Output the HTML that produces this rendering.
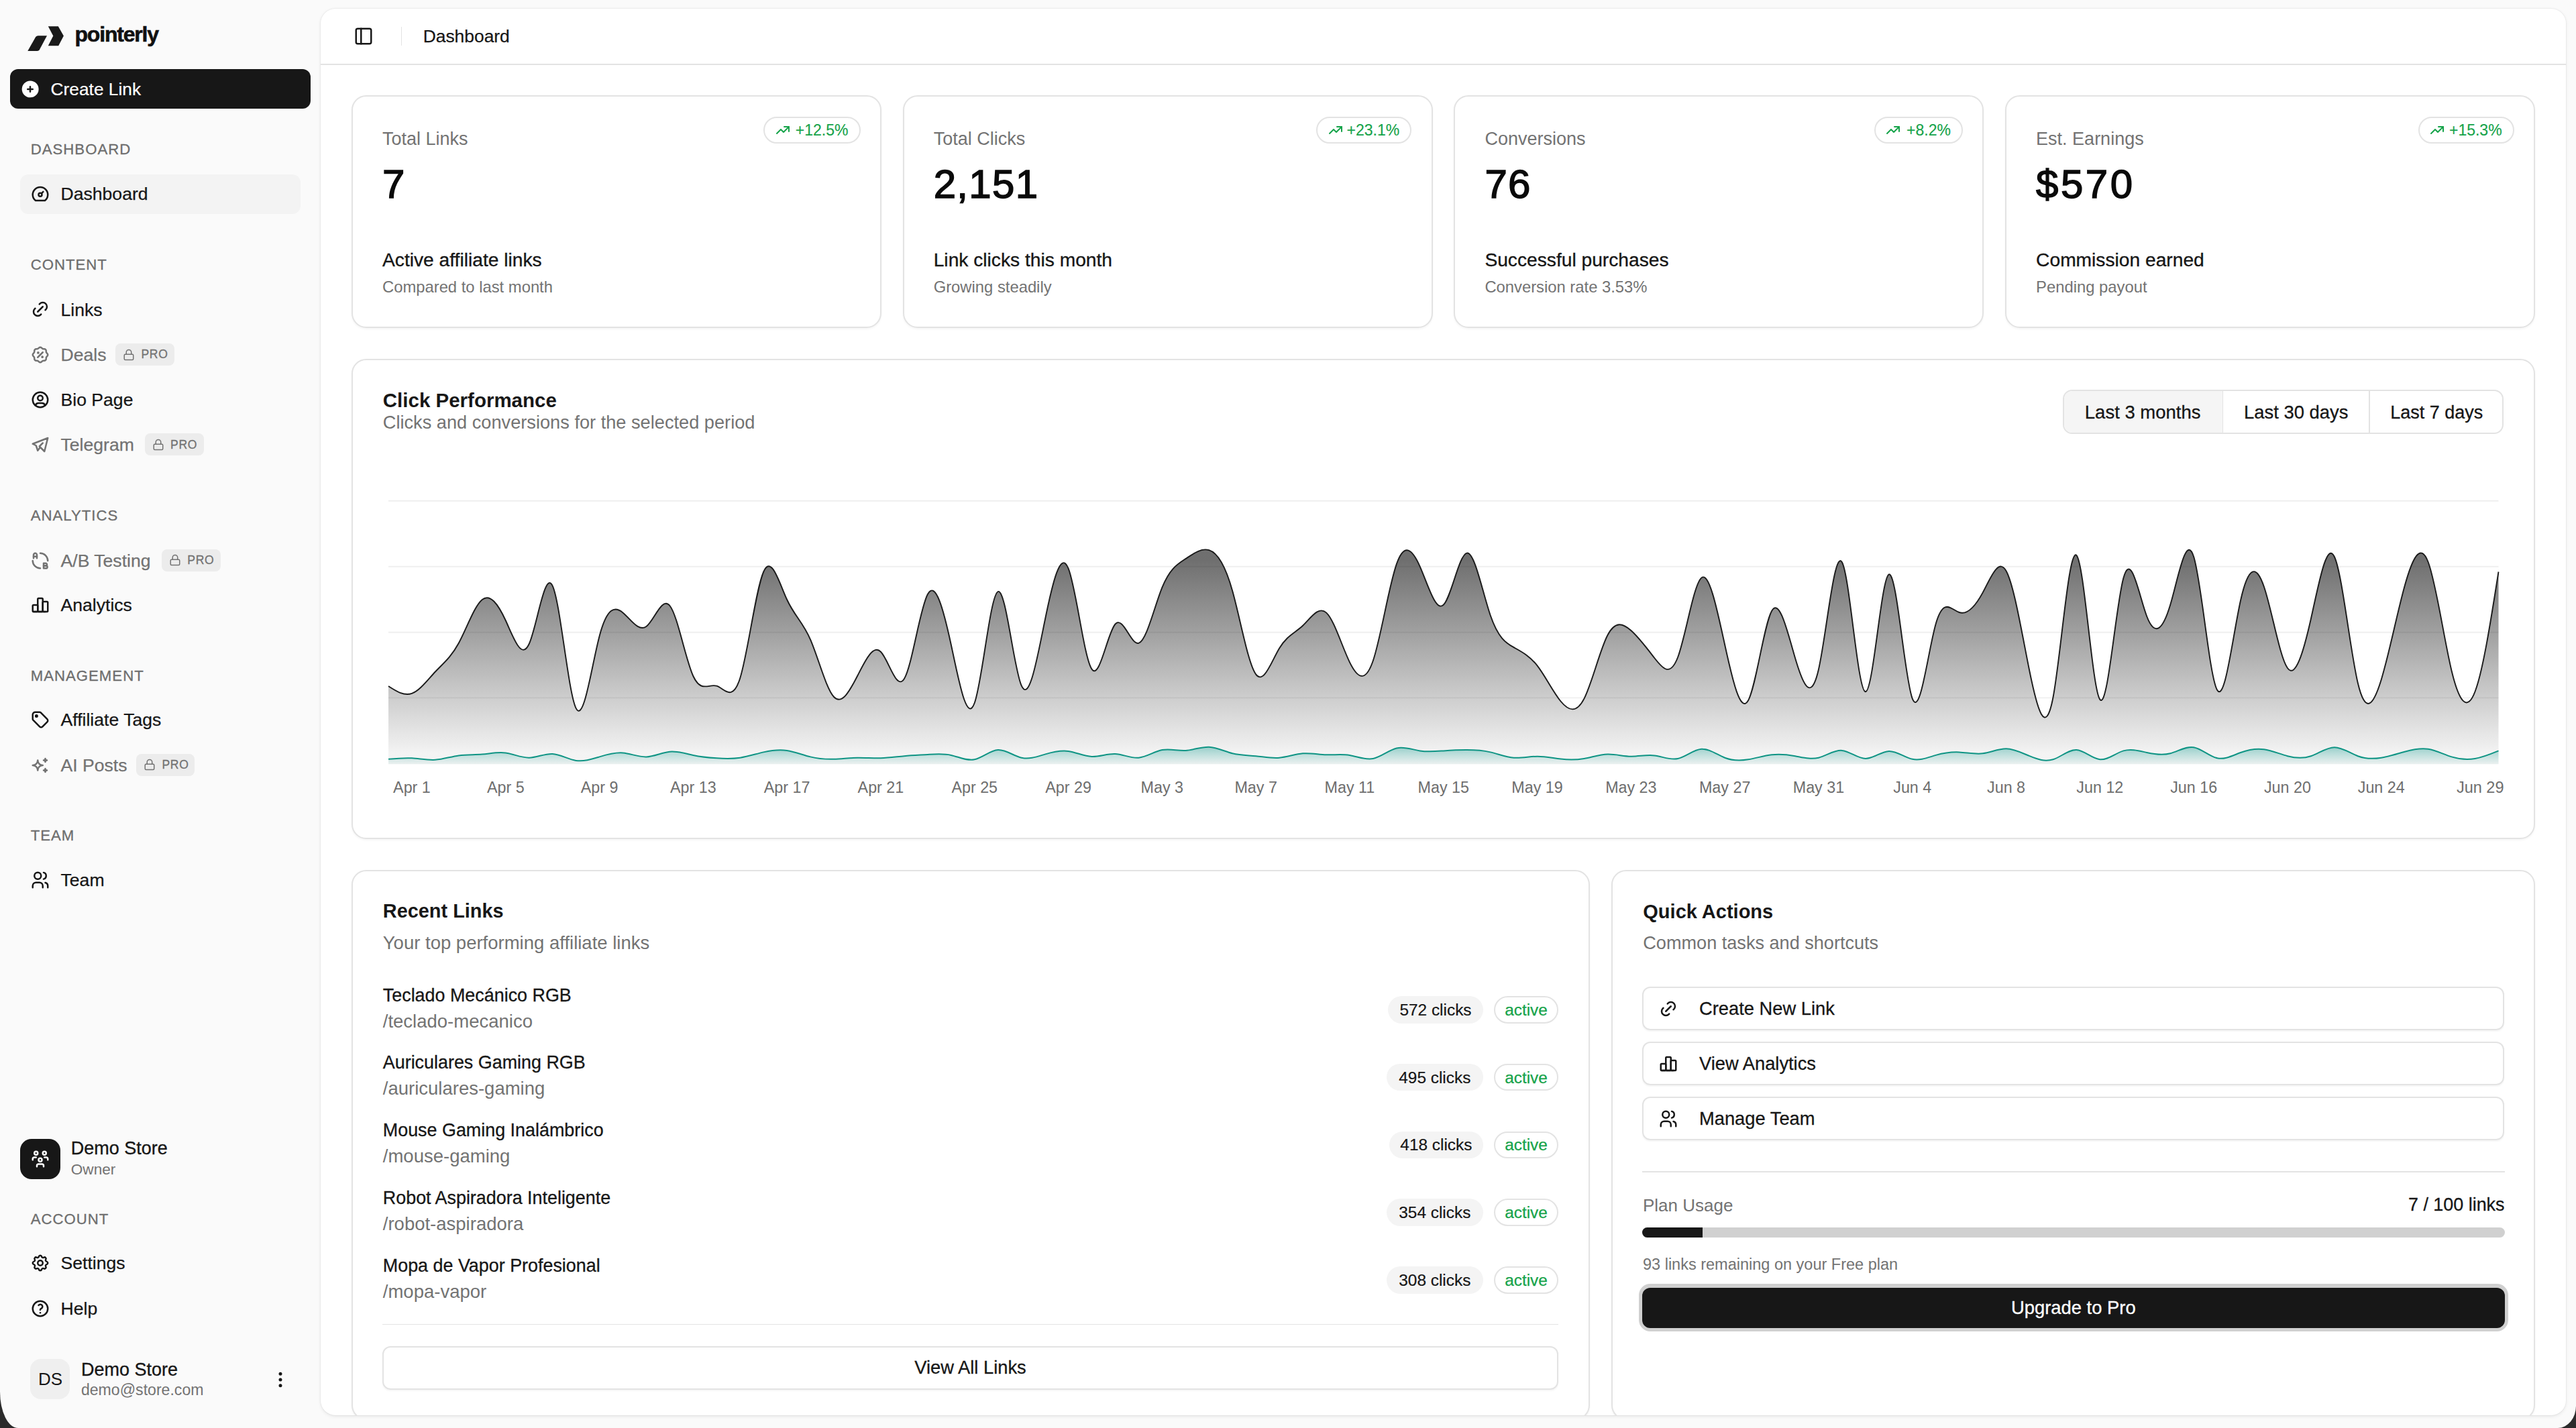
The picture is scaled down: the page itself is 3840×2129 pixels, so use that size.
<!DOCTYPE html>
<html><head><meta charset="utf-8"><title>Dashboard</title>
<style>
html,body{margin:0;padding:0;}
body{width:3840px;height:2129px;overflow:hidden;background:#2b2b2b;position:relative;font-family:'Liberation Sans', sans-serif;}
.t{position:absolute;white-space:nowrap;font-family:'Liberation Sans', sans-serif;}
#win{position:absolute;left:0;top:0;width:3840px;height:2129px;background:#fafafa;border-bottom-left-radius:27px 54px;border-bottom-right-radius:27px 33px;overflow:hidden;}
#panel{position:absolute;left:478px;top:13px;width:3347px;height:2097px;background:#fff;border-radius:22px;box-shadow:0 1.9px 5px rgba(0,0,0,0.08),0 0 0 1px rgba(0,0,0,0.035);overflow:hidden;}
#pin{position:absolute;left:-478px;top:-13px;width:3840px;height:2129px;}
</style></head><body>
<div id="win">
<svg style="position:absolute;left:0;top:0" width="120" height="100" viewBox="0 0 120 100"><path d="M41.3 76 L53.2 55 Q54.6 53.2 56.8 53.2 L70 53.2 L58.8 74.2 Q57.8 76 55.6 76 Z" fill="#1a1a1a"/><path d="M71.8 39.2 L86.8 39.2 L94.9 53.6 L87.2 68.3 L71.8 68.3 L79.3 53.6 Z" fill="#1a1a1a"/></svg>
<div class="t" style="top:34.80px;font-size:32px;line-height:32px;color:#111;font-weight:700;-webkit-text-stroke:0.6px #111;left:111.50px;letter-spacing:-1.2px;">pointerly</div>
<div style="position:absolute;left:15.00px;top:103.00px;width:448.00px;height:59.00px;background:#171717;border-radius:12px;"></div>
<svg style="position:absolute;left:29.50px;top:117.50px" width="30" height="30" viewBox="0 0 24 24" fill="none" stroke="#fff" stroke-width="0" stroke-linecap="round" stroke-linejoin="round"><path d="M4.929 4.929a10 10 0 1 1 14.141 14.141a10 10 0 0 1 -14.14 -14.14zm8.071 4.071a1 1 0 1 0 -2 0v2h-2a1 1 0 1 0 0 2h2v2a1 1 0 1 0 2 0v-2h2a1 1 0 1 0 0 -2h-2v-2z" fill="#fff" stroke="none"/></svg>
<div class="t" style="top:119.95px;font-size:26.3px;line-height:26.3px;color:#fff;-webkit-text-stroke:0.2px #fff;left:75.60px;">Create Link</div>
<div class="t" style="top:212.13px;font-size:22.2px;line-height:22.2px;color:#6e6e6e;-webkit-text-stroke:0.3px #6e6e6e;left:45.70px;letter-spacing:1px;">DASHBOARD</div>
<div style="position:absolute;left:30.00px;top:260.00px;width:418.00px;height:59.00px;background:#f3f3f3;border-radius:12px;"></div>
<svg style="position:absolute;left:45.00px;top:274.00px" width="30" height="30" viewBox="0 0 24 24" fill="none" stroke="#171717" stroke-width="2" stroke-linecap="round" stroke-linejoin="round"><path d="M12 13m-2 0a2 2 0 1 0 4 0a2 2 0 1 0 -4 0"/><path d="M13.45 11.55l2.05 -2.05"/><path d="M6.4 20a9 9 0 1 1 11.2 0z"/></svg>
<div class="t" style="top:276.39px;font-size:26.6px;line-height:26.6px;color:#171717;-webkit-text-stroke:0.25px #171717;left:90.50px;">Dashboard</div>
<div class="t" style="top:384.13px;font-size:22.2px;line-height:22.2px;color:#6e6e6e;-webkit-text-stroke:0.3px #6e6e6e;left:45.70px;letter-spacing:1px;">CONTENT</div>
<svg style="position:absolute;left:45.00px;top:446.40px" width="30" height="30" viewBox="0 0 24 24" fill="none" stroke="#171717" stroke-width="2" stroke-linecap="round" stroke-linejoin="round"><path d="M9 15l6 -6"/><path d="M11 6l.463 -.536a5 5 0 0 1 7.071 7.072l-.534 .464"/><path d="M13 18l-.397 .534a5.068 5.068 0 0 1 -7.127 0a4.972 4.972 0 0 1 0 -7.071l.524 -.463"/></svg>
<div class="t" style="top:448.79px;font-size:26.6px;line-height:26.6px;color:#171717;-webkit-text-stroke:0.25px #171717;left:90.50px;">Links</div>
<svg style="position:absolute;left:45.00px;top:513.60px" width="30" height="30" viewBox="0 0 24 24" fill="none" stroke="#737373" stroke-width="2" stroke-linecap="round" stroke-linejoin="round"><path d="M9 15l6 -6"/><path d="M9.5 9.5m-.5 0a.5 .5 0 1 0 1 0a.5 .5 0 1 0 -1 0" fill="currentColor"/><path d="M14.5 14.5m-.5 0a.5 .5 0 1 0 1 0a.5 .5 0 1 0 -1 0" fill="currentColor"/><path d="M5 7.2a2.2 2.2 0 0 1 2.2 -2.2h1a2.2 2.2 0 0 0 1.55 -.64l.7 -.7a2.2 2.2 0 0 1 3.12 0l.7 .7c.412 .41 .97 .64 1.55 .64h1a2.2 2.2 0 0 1 2.2 2.2v1c0 .58 .23 1.138 .64 1.55l.7 .7a2.2 2.2 0 0 1 0 3.12l-.7 .7a2.2 2.2 0 0 0 -.64 1.55v1a2.2 2.2 0 0 1 -2.2 2.2h-1a2.2 2.2 0 0 0 -1.55 .64l-.7 .7a2.2 2.2 0 0 1 -3.12 0l-.7 -.7a2.2 2.2 0 0 0 -1.55 -.64h-1a2.2 2.2 0 0 1 -2.2 -2.2v-1a2.2 2.2 0 0 0 -.64 -1.55l-.7 -.7a2.2 2.2 0 0 1 0 -3.12l.7 -.7a2.2 2.2 0 0 0 .64 -1.55v-1"/></svg>
<div class="t" style="top:515.99px;font-size:26.6px;line-height:26.6px;color:#737373;-webkit-text-stroke:0.25px #737373;left:90.50px;">Deals</div>
<div style="position:absolute;left:172.00px;top:512.00px;width:88.00px;height:33.00px;background:#ececec;border-radius:8px;"></div>
<svg style="position:absolute;left:183.30px;top:519.50px" width="18" height="18" viewBox="0 0 24 24" fill="none" stroke="#737373" stroke-width="2" stroke-linecap="round" stroke-linejoin="round"><rect width="18" height="11" x="3" y="11" rx="2" ry="2"/><path d="M7 11V7a5 5 0 0 1 10 0v4"/></svg>
<div class="t" style="top:520.14px;font-size:17.6px;line-height:17.6px;color:#737373;-webkit-text-stroke:0.3px #737373;left:210.50px;letter-spacing:0.6px;">PRO</div>
<svg style="position:absolute;left:45.00px;top:581.00px" width="30" height="30" viewBox="0 0 24 24" fill="none" stroke="#171717" stroke-width="2" stroke-linecap="round" stroke-linejoin="round"><path d="M12 12m-9 0a9 9 0 1 0 18 0a9 9 0 1 0 -18 0"/><path d="M12 10m-3 0a3 3 0 1 0 6 0a3 3 0 1 0 -6 0"/><path d="M6.168 18.849a4 4 0 0 1 3.832 -2.849h4a4 4 0 0 1 3.834 2.855"/></svg>
<div class="t" style="top:583.39px;font-size:26.6px;line-height:26.6px;color:#171717;-webkit-text-stroke:0.25px #171717;left:90.50px;">Bio Page</div>
<svg style="position:absolute;left:45.00px;top:648.00px" width="30" height="30" viewBox="0 0 24 24" fill="none" stroke="#737373" stroke-width="2" stroke-linecap="round" stroke-linejoin="round"><path d="M15 10l-4 4l6 6l4 -16l-18 7l4 2l2 6l3 -4"/></svg>
<div class="t" style="top:650.39px;font-size:26.6px;line-height:26.6px;color:#737373;-webkit-text-stroke:0.25px #737373;left:90.50px;">Telegram</div>
<div style="position:absolute;left:215.60px;top:646.40px;width:88.40px;height:33.00px;background:#ececec;border-radius:8px;"></div>
<svg style="position:absolute;left:226.90px;top:653.90px" width="18" height="18" viewBox="0 0 24 24" fill="none" stroke="#737373" stroke-width="2" stroke-linecap="round" stroke-linejoin="round"><rect width="18" height="11" x="3" y="11" rx="2" ry="2"/><path d="M7 11V7a5 5 0 0 1 10 0v4"/></svg>
<div class="t" style="top:654.54px;font-size:17.6px;line-height:17.6px;color:#737373;-webkit-text-stroke:0.3px #737373;left:254.10px;letter-spacing:0.6px;">PRO</div>
<div class="t" style="top:758.13px;font-size:22.2px;line-height:22.2px;color:#6e6e6e;-webkit-text-stroke:0.3px #6e6e6e;left:45.70px;letter-spacing:1px;">ANALYTICS</div>
<svg style="position:absolute;left:45.00px;top:820.50px" width="30" height="30" viewBox="0 0 24 24" fill="none" stroke="#737373" stroke-width="2" stroke-linecap="round" stroke-linejoin="round"><path d="M16 21h3c.81 0 1.48 -.67 1.48 -1.48l.02 -.02c0 -.82 -.69 -1.5 -1.5 -1.5h-3v3z"/><path d="M16 15h2.5c.84 -.01 1.5 .66 1.5 1.5s-.66 1.5 -1.5 1.5h-2.5v-3z"/><path d="M4 9v-4c0 -1.036 .895 -2 2 -2s2 .964 2 2v4"/><path d="M2.99 11.98a9 9 0 0 0 9 9m9 -9a9 9 0 0 0 -9 -9"/><path d="M4 7h4"/></svg>
<div class="t" style="top:822.89px;font-size:26.6px;line-height:26.6px;color:#737373;-webkit-text-stroke:0.25px #737373;left:90.50px;">A/B Testing</div>
<div style="position:absolute;left:240.80px;top:818.90px;width:88.20px;height:33.00px;background:#ececec;border-radius:8px;"></div>
<svg style="position:absolute;left:252.10px;top:826.40px" width="18" height="18" viewBox="0 0 24 24" fill="none" stroke="#737373" stroke-width="2" stroke-linecap="round" stroke-linejoin="round"><rect width="18" height="11" x="3" y="11" rx="2" ry="2"/><path d="M7 11V7a5 5 0 0 1 10 0v4"/></svg>
<div class="t" style="top:827.04px;font-size:17.6px;line-height:17.6px;color:#737373;-webkit-text-stroke:0.3px #737373;left:279.30px;letter-spacing:0.6px;">PRO</div>
<svg style="position:absolute;left:45.00px;top:887.00px" width="30" height="30" viewBox="0 0 24 24" fill="none" stroke="#171717" stroke-width="2" stroke-linecap="round" stroke-linejoin="round"><path d="M3 13a1 1 0 0 1 1 -1h4a1 1 0 0 1 1 1v6a1 1 0 0 1 -1 1h-4a1 1 0 0 1 -1 -1l0 -6"/><path d="M15 9a1 1 0 0 1 1 -1h4a1 1 0 0 1 1 1v10a1 1 0 0 1 -1 1h-4a1 1 0 0 1 -1 -1l0 -10"/><path d="M9 5a1 1 0 0 1 1 -1h4a1 1 0 0 1 1 1v14a1 1 0 0 1 -1 1h-4a1 1 0 0 1 -1 -1l0 -14"/><path d="M4 20h14"/></svg>
<div class="t" style="top:889.39px;font-size:26.6px;line-height:26.6px;color:#171717;-webkit-text-stroke:0.25px #171717;left:90.50px;">Analytics</div>
<div class="t" style="top:996.63px;font-size:22.2px;line-height:22.2px;color:#6e6e6e;-webkit-text-stroke:0.3px #6e6e6e;left:45.70px;letter-spacing:1px;">MANAGEMENT</div>
<svg style="position:absolute;left:45.00px;top:1057.70px" width="30" height="30" viewBox="0 0 24 24" fill="none" stroke="#171717" stroke-width="2" stroke-linecap="round" stroke-linejoin="round"><path d="M7.5 7.5m-1 0a1 1 0 1 0 2 0a1 1 0 1 0 -2 0"/><path d="M3 6v5.172a2 2 0 0 0 .586 1.414l7.71 7.71a2.41 2.41 0 0 0 3.408 0l5.592 -5.592a2.41 2.41 0 0 0 0 -3.408l-7.71 -7.71a2 2 0 0 0 -1.414 -.586h-5.172a3 3 0 0 0 -3 3z"/></svg>
<div class="t" style="top:1060.09px;font-size:26.6px;line-height:26.6px;color:#171717;-webkit-text-stroke:0.25px #171717;left:90.50px;">Affiliate Tags</div>
<svg style="position:absolute;left:45.00px;top:1125.50px" width="30" height="30" viewBox="0 0 24 24" fill="none" stroke="#737373" stroke-width="2" stroke-linecap="round" stroke-linejoin="round"><path d="M16 18a2 2 0 0 1 2 2a2 2 0 0 1 2 -2a2 2 0 0 1 -2 -2a2 2 0 0 1 -2 2zm0 -12a2 2 0 0 1 2 2a2 2 0 0 1 2 -2a2 2 0 0 1 -2 -2a2 2 0 0 1 -2 2zm-7 12a6 6 0 0 1 6 -6a6 6 0 0 1 -6 -6a6 6 0 0 1 -6 6a6 6 0 0 1 6 6z"/></svg>
<div class="t" style="top:1127.89px;font-size:26.6px;line-height:26.6px;color:#737373;-webkit-text-stroke:0.25px #737373;left:90.50px;">AI Posts</div>
<div style="position:absolute;left:203.00px;top:1123.90px;width:87.00px;height:33.00px;background:#ececec;border-radius:8px;"></div>
<svg style="position:absolute;left:214.30px;top:1131.40px" width="18" height="18" viewBox="0 0 24 24" fill="none" stroke="#737373" stroke-width="2" stroke-linecap="round" stroke-linejoin="round"><rect width="18" height="11" x="3" y="11" rx="2" ry="2"/><path d="M7 11V7a5 5 0 0 1 10 0v4"/></svg>
<div class="t" style="top:1132.04px;font-size:17.6px;line-height:17.6px;color:#737373;-webkit-text-stroke:0.3px #737373;left:241.50px;letter-spacing:0.6px;">PRO</div>
<div class="t" style="top:1235.13px;font-size:22.2px;line-height:22.2px;color:#6e6e6e;-webkit-text-stroke:0.3px #6e6e6e;left:45.70px;letter-spacing:1px;">TEAM</div>
<svg style="position:absolute;left:45.00px;top:1297.00px" width="30" height="30" viewBox="0 0 24 24" fill="none" stroke="#171717" stroke-width="2" stroke-linecap="round" stroke-linejoin="round"><path d="M9 7m-4 0a4 4 0 1 0 8 0a4 4 0 1 0 -8 0"/><path d="M3 21v-2a4 4 0 0 1 4 -4h4a4 4 0 0 1 4 4v2"/><path d="M16 3.13a4 4 0 0 1 0 7.75"/><path d="M21 21v-2a4 4 0 0 0 -3 -3.85"/></svg>
<div class="t" style="top:1299.39px;font-size:26.6px;line-height:26.6px;color:#171717;-webkit-text-stroke:0.25px #171717;left:90.50px;">Team</div>
<div style="position:absolute;left:30.00px;top:1698.00px;width:59.50px;height:59.50px;background:#171717;border-radius:17px;"></div>
<svg style="position:absolute;left:44.50px;top:1712.50px" width="30" height="30" viewBox="0 0 24 24" fill="none" stroke="#fff" stroke-width="2" stroke-linecap="round" stroke-linejoin="round"><path d="M10 13a2 2 0 1 0 4 0a2 2 0 0 0 -4 0"/><path d="M8 21v-1a2 2 0 0 1 2 -2h4a2 2 0 0 1 2 2v1"/><path d="M15 5a2 2 0 1 0 4 0a2 2 0 0 0 -4 0"/><path d="M17 10h2a2 2 0 0 1 2 2v1"/><path d="M5 5a2 2 0 1 0 4 0a2 2 0 0 0 -4 0"/><path d="M3 13v-1a2 2 0 0 1 2 -2h2"/></svg>
<div class="t" style="top:1699.45px;font-size:27px;line-height:27px;color:#171717;-webkit-text-stroke:0.35px #171717;left:105.80px;">Demo Store</div>
<div class="t" style="top:1733.39px;font-size:22.6px;line-height:22.6px;color:#737373;left:105.80px;">Owner</div>
<div class="t" style="top:1807.13px;font-size:22.2px;line-height:22.2px;color:#6e6e6e;-webkit-text-stroke:0.3px #6e6e6e;left:45.70px;letter-spacing:1px;">ACCOUNT</div>
<svg style="position:absolute;left:45.00px;top:1868.00px" width="30" height="30" viewBox="0 0 24 24" fill="none" stroke="#171717" stroke-width="2" stroke-linecap="round" stroke-linejoin="round"><path d="M10.325 4.317c.426 -1.756 2.924 -1.756 3.35 0a1.724 1.724 0 0 0 2.573 1.066c1.543 -.94 3.31 .826 2.37 2.37a1.724 1.724 0 0 0 1.065 2.572c1.756 .426 1.756 2.924 0 3.35a1.724 1.724 0 0 0 -1.066 2.573c.94 1.543 -.826 3.31 -2.37 2.37a1.724 1.724 0 0 0 -2.572 1.065c-.426 1.756 -2.924 1.756 -3.35 0a1.724 1.724 0 0 0 -2.573 -1.066c-1.543 .94 -3.31 -.826 -2.37 -2.37a1.724 1.724 0 0 0 -1.065 -2.572c-1.756 -.426 -1.756 -2.924 0 -3.35a1.724 1.724 0 0 0 1.066 -2.573c-.94 -1.543 .826 -3.31 2.37 -2.37c1 .608 2.296 .07 2.572 -1.065z"/><path d="M9 12a3 3 0 1 0 6 0a3 3 0 0 0 -6 0"/></svg>
<div class="t" style="top:1870.39px;font-size:26.6px;line-height:26.6px;color:#171717;-webkit-text-stroke:0.25px #171717;left:90.50px;">Settings</div>
<svg style="position:absolute;left:45.00px;top:1935.60px" width="30" height="30" viewBox="0 0 24 24" fill="none" stroke="#171717" stroke-width="2" stroke-linecap="round" stroke-linejoin="round"><path d="M12 12m-9 0a9 9 0 1 0 18 0a9 9 0 1 0 -18 0"/><path d="M12 17l0 .01"/><path d="M12 13.5a1.5 1.5 0 0 1 1 -1.5a2.6 2.6 0 1 0 -3 -4"/></svg>
<div class="t" style="top:1937.99px;font-size:26.6px;line-height:26.6px;color:#171717;-webkit-text-stroke:0.25px #171717;left:90.50px;">Help</div>
<div style="position:absolute;left:45.30px;top:2026.00px;width:59.20px;height:60.00px;background:#efefef;border-radius:16px;"></div>
<div class="t" style="top:2042.90px;font-size:26px;line-height:26px;color:#171717;left:-925.00px;width:2000px;text-align:center;">DS</div>
<div class="t" style="top:2028.65px;font-size:27px;line-height:27px;color:#171717;-webkit-text-stroke:0.35px #171717;left:120.90px;">Demo Store</div>
<div class="t" style="top:2061.36px;font-size:23.1px;line-height:23.1px;color:#737373;left:120.90px;">demo@store.com</div>
<svg style="position:absolute;left:403.00px;top:2041.50px" width="30" height="30" viewBox="0 0 24 24" fill="none" stroke="#171717" stroke-width="2" stroke-linecap="round" stroke-linejoin="round"><path d="M12 12m-1 0a1 1 0 1 0 2 0a1 1 0 1 0 -2 0"/><path d="M12 19m-1 0a1 1 0 1 0 2 0a1 1 0 1 0 -2 0"/><path d="M12 5m-1 0a1 1 0 1 0 2 0a1 1 0 1 0 -2 0"/></svg>
<div id="panel"><div id="pin">
<svg style="position:absolute;left:526.80px;top:39.00px" width="30" height="30" viewBox="0 0 24 24" fill="none" stroke="#171717" stroke-width="2" stroke-linecap="round" stroke-linejoin="round"><rect width="18" height="18" x="3" y="3" rx="2"/><path d="M9 3v18"/></svg>
<div style="position:absolute;left:597.50px;top:39.60px;width:1.90px;height:28.70px;background:#e3e3e3;"></div>
<div class="t" style="top:41.26px;font-size:26.4px;line-height:26.4px;color:#171717;-webkit-text-stroke:0.25px #171717;left:630.70px;">Dashboard</div>
<div style="position:absolute;left:478.00px;top:95.00px;width:3347.00px;height:1.90px;background:#e3e3e3;"></div>
<div style="position:absolute;left:524.00px;top:142.00px;width:790.00px;height:346.50px;background:#fff;border:2px solid #e3e3e3;border-radius:22px;box-sizing:border-box;box-shadow:0 1.9px 3px rgba(0,0,0,0.04);"></div>
<div class="t" style="top:194.05px;font-size:27px;line-height:27px;color:#737373;left:570.00px;">Total Links</div>
<div class="t" style="top:245.00px;font-size:60px;line-height:60px;color:#0a0a0a;-webkit-text-stroke:1.5px #0a0a0a;left:570.00px;letter-spacing:1.3px;">7</div>
<div class="t" style="top:372.53px;font-size:28.2px;line-height:28.2px;color:#171717;-webkit-text-stroke:0.35px #171717;left:570.00px;">Active affiliate links</div>
<div class="t" style="top:415.77px;font-size:23.8px;line-height:23.8px;color:#737373;left:570.00px;">Compared to last month</div>
<div style="position:absolute;left:1138.00px;top:173.80px;width:144.50px;height:40.70px;border:2px solid #e3e3e3;border-radius:999px;box-sizing:border-box;"></div>
<svg style="position:absolute;left:1154.50px;top:182.00px" width="24" height="24" viewBox="0 0 24 24" fill="none" stroke="#16a34a" stroke-width="2" stroke-linecap="round" stroke-linejoin="round"><path d="M3 17l6 -6l4 4l8 -8"/><path d="M14 7l7 0l0 7"/></svg>
<div class="t" style="top:182.95px;font-size:23px;line-height:23px;color:#16a34a;-webkit-text-stroke:0.15px #16a34a;right:2575.50px;">+12.5%</div>
<div style="position:absolute;left:1345.70px;top:142.00px;width:790.00px;height:346.50px;background:#fff;border:2px solid #e3e3e3;border-radius:22px;box-sizing:border-box;box-shadow:0 1.9px 3px rgba(0,0,0,0.04);"></div>
<div class="t" style="top:194.05px;font-size:27px;line-height:27px;color:#737373;left:1391.70px;">Total Clicks</div>
<div class="t" style="top:245.00px;font-size:60px;line-height:60px;color:#0a0a0a;-webkit-text-stroke:1.5px #0a0a0a;left:1391.70px;letter-spacing:1.3px;">2,151</div>
<div class="t" style="top:372.53px;font-size:28.2px;line-height:28.2px;color:#171717;-webkit-text-stroke:0.35px #171717;left:1391.70px;">Link clicks this month</div>
<div class="t" style="top:415.77px;font-size:23.8px;line-height:23.8px;color:#737373;left:1391.70px;">Growing steadily</div>
<div style="position:absolute;left:1962.40px;top:173.80px;width:141.80px;height:40.70px;border:2px solid #e3e3e3;border-radius:999px;box-sizing:border-box;"></div>
<svg style="position:absolute;left:1978.90px;top:182.00px" width="24" height="24" viewBox="0 0 24 24" fill="none" stroke="#16a34a" stroke-width="2" stroke-linecap="round" stroke-linejoin="round"><path d="M3 17l6 -6l4 4l8 -8"/><path d="M14 7l7 0l0 7"/></svg>
<div class="t" style="top:182.95px;font-size:23px;line-height:23px;color:#16a34a;-webkit-text-stroke:0.15px #16a34a;right:1753.80px;">+23.1%</div>
<div style="position:absolute;left:2167.40px;top:142.00px;width:790.00px;height:346.50px;background:#fff;border:2px solid #e3e3e3;border-radius:22px;box-sizing:border-box;box-shadow:0 1.9px 3px rgba(0,0,0,0.04);"></div>
<div class="t" style="top:194.05px;font-size:27px;line-height:27px;color:#737373;left:2213.40px;">Conversions</div>
<div class="t" style="top:245.00px;font-size:60px;line-height:60px;color:#0a0a0a;-webkit-text-stroke:1.5px #0a0a0a;left:2213.40px;letter-spacing:1.3px;">76</div>
<div class="t" style="top:372.53px;font-size:28.2px;line-height:28.2px;color:#171717;-webkit-text-stroke:0.35px #171717;left:2213.40px;">Successful purchases</div>
<div class="t" style="top:415.77px;font-size:23.8px;line-height:23.8px;color:#737373;left:2213.40px;">Conversion rate 3.53%</div>
<div style="position:absolute;left:2793.90px;top:173.80px;width:132.00px;height:40.70px;border:2px solid #e3e3e3;border-radius:999px;box-sizing:border-box;"></div>
<svg style="position:absolute;left:2810.40px;top:182.00px" width="24" height="24" viewBox="0 0 24 24" fill="none" stroke="#16a34a" stroke-width="2" stroke-linecap="round" stroke-linejoin="round"><path d="M3 17l6 -6l4 4l8 -8"/><path d="M14 7l7 0l0 7"/></svg>
<div class="t" style="top:182.95px;font-size:23px;line-height:23px;color:#16a34a;-webkit-text-stroke:0.15px #16a34a;right:932.10px;">+8.2%</div>
<div style="position:absolute;left:2989.10px;top:142.00px;width:790.00px;height:346.50px;background:#fff;border:2px solid #e3e3e3;border-radius:22px;box-sizing:border-box;box-shadow:0 1.9px 3px rgba(0,0,0,0.04);"></div>
<div class="t" style="top:194.05px;font-size:27px;line-height:27px;color:#737373;left:3035.10px;">Est. Earnings</div>
<div class="t" style="top:245.00px;font-size:60px;line-height:60px;color:#0a0a0a;-webkit-text-stroke:1.5px #0a0a0a;left:3035.10px;letter-spacing:3.5px;">$570</div>
<div class="t" style="top:372.53px;font-size:28.2px;line-height:28.2px;color:#171717;-webkit-text-stroke:0.35px #171717;left:3035.10px;">Commission earned</div>
<div class="t" style="top:415.77px;font-size:23.8px;line-height:23.8px;color:#737373;left:3035.10px;">Pending payout</div>
<div style="position:absolute;left:3604.60px;top:173.80px;width:143.00px;height:40.70px;border:2px solid #e3e3e3;border-radius:999px;box-sizing:border-box;"></div>
<svg style="position:absolute;left:3621.10px;top:182.00px" width="24" height="24" viewBox="0 0 24 24" fill="none" stroke="#16a34a" stroke-width="2" stroke-linecap="round" stroke-linejoin="round"><path d="M3 17l6 -6l4 4l8 -8"/><path d="M14 7l7 0l0 7"/></svg>
<div class="t" style="top:182.95px;font-size:23px;line-height:23px;color:#16a34a;-webkit-text-stroke:0.15px #16a34a;right:110.40px;">+15.3%</div>
<div style="position:absolute;left:524.00px;top:535.00px;width:3255.00px;height:715.50px;background:#fff;border:2px solid #e3e3e3;border-radius:22px;box-sizing:border-box;box-shadow:0 1.9px 3px rgba(0,0,0,0.04);"></div>
<div class="t" style="top:581.92px;font-size:29.5px;line-height:29.5px;color:#171717;font-weight:700;left:570.80px;">Click Performance</div>
<div class="t" style="top:615.68px;font-size:27.2px;line-height:27.2px;color:#737373;left:570.80px;">Clicks and conversions for the selected period</div>
<div style="position:absolute;left:3075.40px;top:581.30px;width:657.00px;height:65.50px;border:2px solid #e3e3e3;border-radius:14px;box-sizing:border-box;overflow:hidden;"></div>
<div style="position:absolute;left:3077.30px;top:583.20px;width:236.20px;height:61.70px;background:#f5f5f5;border-radius:12px 0 0 12px;"></div>
<div style="position:absolute;left:3312.60px;top:583.00px;width:1.90px;height:62.00px;background:#e3e3e3;"></div>
<div style="position:absolute;left:3530.80px;top:583.00px;width:1.90px;height:62.00px;background:#e3e3e3;"></div>
<div class="t" style="top:601.12px;font-size:27.5px;line-height:27.5px;color:#171717;-webkit-text-stroke:0.3px #171717;left:2194.20px;width:2000px;text-align:center;">Last 3 months</div>
<div class="t" style="top:601.21px;font-size:27.4px;line-height:27.4px;color:#171717;-webkit-text-stroke:0.3px #171717;left:2422.70px;width:2000px;text-align:center;">Last 30 days</div>
<div class="t" style="top:601.55px;font-size:27px;line-height:27px;color:#171717;-webkit-text-stroke:0.3px #171717;left:2632.20px;width:2000px;text-align:center;">Last 7 days</div>
<svg style="position:absolute;left:0;top:0" width="3840" height="1250" viewBox="0 0 3840 1250">
<defs>
<linearGradient id="gg" x1="0" y1="0" x2="0" y2="1"><stop offset="5%" stop-color="#171717" stop-opacity="0.62"/><stop offset="95%" stop-color="#171717" stop-opacity="0.05"/></linearGradient>
<linearGradient id="tg" x1="0" y1="0" x2="0" y2="1"><stop offset="5%" stop-color="#009689" stop-opacity="0.35"/><stop offset="95%" stop-color="#009689" stop-opacity="0.05"/></linearGradient>
</defs>
<line x1="579" x2="3724.5" y1="746.8" y2="746.8" stroke="#efefef" stroke-width="1.9"/><line x1="579" x2="3724.5" y1="844.8" y2="844.8" stroke="#efefef" stroke-width="1.9"/><line x1="579" x2="3724.5" y1="942.8" y2="942.8" stroke="#efefef" stroke-width="1.9"/><line x1="579" x2="3724.5" y1="1040.4" y2="1040.4" stroke="#efefef" stroke-width="1.9"/>
<path d="M579.00,1023.00C590.65,1030.53,602.30,1038.06,613.95,1033.90C625.60,1029.74,637.25,1013.88,648.90,1001.50C660.55,989.12,672.20,980.23,683.85,958.80C695.50,937.37,707.15,903.39,718.80,894.00C730.45,884.61,742.10,899.82,753.75,925.00C765.40,950.18,777.05,985.32,788.70,960.00C800.35,934.68,812.00,848.91,823.65,873.30C835.30,897.69,846.95,1032.24,858.60,1055.90C870.25,1079.56,881.90,992.32,893.55,948.40C905.20,904.48,916.85,903.88,928.50,913.40C940.15,922.92,951.80,942.55,963.45,934.00C975.10,925.45,986.75,888.73,998.40,903.00C1010.05,917.27,1021.70,982.54,1033.35,1008.00C1045.00,1033.46,1056.65,1019.10,1068.30,1022.70C1079.95,1026.30,1091.60,1047.87,1103.25,1011.00C1114.90,974.13,1126.55,878.82,1138.20,852.50C1149.85,826.18,1161.50,868.85,1173.15,894.00C1184.80,919.15,1196.45,926.79,1208.10,953.60C1219.75,980.41,1231.40,1026.39,1243.05,1039.00C1254.70,1051.61,1266.35,1030.84,1278.00,1008.00C1289.65,985.16,1301.30,960.26,1312.95,971.70C1324.60,983.14,1336.25,1030.93,1347.90,1012.00C1359.55,993.07,1371.20,907.41,1382.85,886.00C1394.50,864.59,1406.15,907.44,1417.80,961.30C1429.45,1015.16,1441.10,1080.03,1452.75,1048.00C1464.40,1015.97,1476.05,887.03,1487.70,882.00C1499.35,876.97,1511.00,995.86,1522.65,1022.20C1534.30,1048.54,1545.95,982.34,1557.60,925.00C1569.25,867.66,1580.90,819.17,1592.55,847.40C1604.20,875.63,1615.85,980.59,1627.50,997.60C1639.15,1014.61,1650.80,943.66,1662.45,930.50C1674.10,917.34,1685.75,961.98,1697.40,958.80C1709.05,955.62,1720.70,904.62,1732.35,875.90C1744.00,847.18,1755.65,840.72,1767.30,833.10C1778.95,825.48,1790.60,816.68,1802.25,820.20C1813.90,823.72,1825.55,839.54,1837.20,881.00C1848.85,922.46,1860.50,989.55,1872.15,1005.40C1883.80,1021.25,1895.45,985.85,1907.10,966.50C1918.75,947.15,1930.40,943.85,1942.05,932.80C1953.70,921.75,1965.35,902.96,1977.00,913.40C1988.65,923.84,2000.30,963.51,2011.95,987.30C2023.60,1011.09,2035.25,1019.01,2046.90,984.70C2058.55,950.39,2070.20,873.86,2081.85,840.90C2093.50,807.94,2105.15,818.55,2116.80,844.80C2128.45,871.05,2140.10,912.96,2151.75,901.80C2163.40,890.64,2175.05,826.43,2186.70,824.60C2198.35,822.77,2210.00,883.33,2221.65,917.30C2233.30,951.27,2244.95,958.64,2256.60,965.20C2268.25,971.76,2279.90,977.52,2291.55,992.40C2303.20,1007.28,2314.85,1031.27,2326.50,1045.50C2338.15,1059.73,2349.80,1064.20,2361.45,1041.60C2373.10,1019.00,2384.75,969.33,2396.40,947.00C2408.05,924.67,2419.70,929.68,2431.35,940.00C2443.00,950.32,2454.65,965.93,2466.30,981.00C2477.95,996.07,2489.60,1010.59,2501.25,979.50C2512.90,948.41,2524.55,871.72,2536.20,861.60C2547.85,851.48,2559.50,907.92,2571.15,961.30C2582.80,1014.68,2594.45,1065.00,2606.10,1044.20C2617.75,1023.40,2629.40,931.49,2641.05,911.00C2652.70,890.51,2664.35,941.43,2676.00,981.00C2687.65,1020.57,2699.30,1048.79,2710.95,998.00C2722.60,947.21,2734.25,817.42,2745.90,838.30C2757.55,859.18,2769.20,1030.74,2780.85,1031.30C2792.50,1031.86,2804.15,861.41,2815.80,856.40C2827.45,851.39,2839.10,1011.80,2850.75,1041.60C2862.40,1071.40,2874.05,970.58,2885.70,930.00C2897.35,889.42,2909.00,909.07,2920.65,913.00C2932.30,916.93,2943.95,905.14,2955.60,883.60C2967.25,862.06,2978.90,830.77,2990.55,851.20C3002.20,871.63,3013.85,943.77,3025.50,1001.00C3037.15,1058.23,3048.80,1100.53,3060.45,1040.00C3072.10,979.47,3083.75,816.10,3095.40,827.90C3107.05,839.70,3118.70,1026.67,3130.35,1042.90C3142.00,1059.13,3153.65,904.62,3165.30,862.00C3176.95,819.38,3188.60,888.66,3200.25,919.00C3211.90,949.34,3223.55,940.74,3235.20,901.80C3246.85,862.86,3258.50,793.58,3270.15,830.00C3281.80,866.42,3293.45,1008.55,3305.10,1028.70C3316.75,1048.85,3328.40,947.01,3340.05,895.00C3351.70,842.99,3363.35,840.81,3375.00,875.00C3386.65,909.19,3398.30,979.74,3409.95,996.00C3421.60,1012.26,3433.25,974.21,3444.90,922.50C3456.55,870.79,3468.20,805.42,3479.85,830.00C3491.50,854.58,3503.15,969.12,3514.80,1018.30C3526.45,1067.48,3538.10,1051.30,3549.75,1013.20C3561.40,975.10,3573.05,915.10,3584.70,873.30C3596.35,831.50,3608.00,807.92,3619.65,838.00C3631.30,868.08,3642.95,951.84,3654.60,1000.20C3666.25,1048.56,3677.90,1061.52,3689.55,1031.00C3701.20,1000.48,3712.85,926.49,3724.50,852.50L3724.50,1139.2L579.00,1139.2Z" fill="url(#gg)"/>
<path d="M579.00,1023.00C590.65,1030.53,602.30,1038.06,613.95,1033.90C625.60,1029.74,637.25,1013.88,648.90,1001.50C660.55,989.12,672.20,980.23,683.85,958.80C695.50,937.37,707.15,903.39,718.80,894.00C730.45,884.61,742.10,899.82,753.75,925.00C765.40,950.18,777.05,985.32,788.70,960.00C800.35,934.68,812.00,848.91,823.65,873.30C835.30,897.69,846.95,1032.24,858.60,1055.90C870.25,1079.56,881.90,992.32,893.55,948.40C905.20,904.48,916.85,903.88,928.50,913.40C940.15,922.92,951.80,942.55,963.45,934.00C975.10,925.45,986.75,888.73,998.40,903.00C1010.05,917.27,1021.70,982.54,1033.35,1008.00C1045.00,1033.46,1056.65,1019.10,1068.30,1022.70C1079.95,1026.30,1091.60,1047.87,1103.25,1011.00C1114.90,974.13,1126.55,878.82,1138.20,852.50C1149.85,826.18,1161.50,868.85,1173.15,894.00C1184.80,919.15,1196.45,926.79,1208.10,953.60C1219.75,980.41,1231.40,1026.39,1243.05,1039.00C1254.70,1051.61,1266.35,1030.84,1278.00,1008.00C1289.65,985.16,1301.30,960.26,1312.95,971.70C1324.60,983.14,1336.25,1030.93,1347.90,1012.00C1359.55,993.07,1371.20,907.41,1382.85,886.00C1394.50,864.59,1406.15,907.44,1417.80,961.30C1429.45,1015.16,1441.10,1080.03,1452.75,1048.00C1464.40,1015.97,1476.05,887.03,1487.70,882.00C1499.35,876.97,1511.00,995.86,1522.65,1022.20C1534.30,1048.54,1545.95,982.34,1557.60,925.00C1569.25,867.66,1580.90,819.17,1592.55,847.40C1604.20,875.63,1615.85,980.59,1627.50,997.60C1639.15,1014.61,1650.80,943.66,1662.45,930.50C1674.10,917.34,1685.75,961.98,1697.40,958.80C1709.05,955.62,1720.70,904.62,1732.35,875.90C1744.00,847.18,1755.65,840.72,1767.30,833.10C1778.95,825.48,1790.60,816.68,1802.25,820.20C1813.90,823.72,1825.55,839.54,1837.20,881.00C1848.85,922.46,1860.50,989.55,1872.15,1005.40C1883.80,1021.25,1895.45,985.85,1907.10,966.50C1918.75,947.15,1930.40,943.85,1942.05,932.80C1953.70,921.75,1965.35,902.96,1977.00,913.40C1988.65,923.84,2000.30,963.51,2011.95,987.30C2023.60,1011.09,2035.25,1019.01,2046.90,984.70C2058.55,950.39,2070.20,873.86,2081.85,840.90C2093.50,807.94,2105.15,818.55,2116.80,844.80C2128.45,871.05,2140.10,912.96,2151.75,901.80C2163.40,890.64,2175.05,826.43,2186.70,824.60C2198.35,822.77,2210.00,883.33,2221.65,917.30C2233.30,951.27,2244.95,958.64,2256.60,965.20C2268.25,971.76,2279.90,977.52,2291.55,992.40C2303.20,1007.28,2314.85,1031.27,2326.50,1045.50C2338.15,1059.73,2349.80,1064.20,2361.45,1041.60C2373.10,1019.00,2384.75,969.33,2396.40,947.00C2408.05,924.67,2419.70,929.68,2431.35,940.00C2443.00,950.32,2454.65,965.93,2466.30,981.00C2477.95,996.07,2489.60,1010.59,2501.25,979.50C2512.90,948.41,2524.55,871.72,2536.20,861.60C2547.85,851.48,2559.50,907.92,2571.15,961.30C2582.80,1014.68,2594.45,1065.00,2606.10,1044.20C2617.75,1023.40,2629.40,931.49,2641.05,911.00C2652.70,890.51,2664.35,941.43,2676.00,981.00C2687.65,1020.57,2699.30,1048.79,2710.95,998.00C2722.60,947.21,2734.25,817.42,2745.90,838.30C2757.55,859.18,2769.20,1030.74,2780.85,1031.30C2792.50,1031.86,2804.15,861.41,2815.80,856.40C2827.45,851.39,2839.10,1011.80,2850.75,1041.60C2862.40,1071.40,2874.05,970.58,2885.70,930.00C2897.35,889.42,2909.00,909.07,2920.65,913.00C2932.30,916.93,2943.95,905.14,2955.60,883.60C2967.25,862.06,2978.90,830.77,2990.55,851.20C3002.20,871.63,3013.85,943.77,3025.50,1001.00C3037.15,1058.23,3048.80,1100.53,3060.45,1040.00C3072.10,979.47,3083.75,816.10,3095.40,827.90C3107.05,839.70,3118.70,1026.67,3130.35,1042.90C3142.00,1059.13,3153.65,904.62,3165.30,862.00C3176.95,819.38,3188.60,888.66,3200.25,919.00C3211.90,949.34,3223.55,940.74,3235.20,901.80C3246.85,862.86,3258.50,793.58,3270.15,830.00C3281.80,866.42,3293.45,1008.55,3305.10,1028.70C3316.75,1048.85,3328.40,947.01,3340.05,895.00C3351.70,842.99,3363.35,840.81,3375.00,875.00C3386.65,909.19,3398.30,979.74,3409.95,996.00C3421.60,1012.26,3433.25,974.21,3444.90,922.50C3456.55,870.79,3468.20,805.42,3479.85,830.00C3491.50,854.58,3503.15,969.12,3514.80,1018.30C3526.45,1067.48,3538.10,1051.30,3549.75,1013.20C3561.40,975.10,3573.05,915.10,3584.70,873.30C3596.35,831.50,3608.00,807.92,3619.65,838.00C3631.30,868.08,3642.95,951.84,3654.60,1000.20C3666.25,1048.56,3677.90,1061.52,3689.55,1031.00C3701.20,1000.48,3712.85,926.49,3724.50,852.50" fill="none" stroke="#1a1a1a" stroke-width="1.9"/>
<path d="M579.00,1131.80C590.65,1130.69,602.30,1129.59,613.95,1130.30C625.60,1131.01,637.25,1133.55,648.90,1132.80C660.55,1132.05,672.20,1128.02,683.85,1126.40C695.50,1124.78,707.15,1125.56,718.80,1124.60C730.45,1123.64,742.10,1120.94,753.75,1122.50C765.40,1124.06,777.05,1129.87,788.70,1129.70C800.35,1129.53,812.00,1123.36,823.65,1124.00C835.30,1124.64,846.95,1132.07,858.60,1133.90C870.25,1135.73,881.90,1131.96,893.55,1128.40C905.20,1124.84,916.85,1121.51,928.50,1122.50C940.15,1123.49,951.80,1128.81,963.45,1128.40C975.10,1127.99,986.75,1121.85,998.40,1120.70C1010.05,1119.55,1021.70,1123.40,1033.35,1125.90C1045.00,1128.40,1056.65,1129.54,1068.30,1130.30C1079.95,1131.06,1091.60,1131.44,1103.25,1129.70C1114.90,1127.96,1126.55,1124.09,1138.20,1121.40C1149.85,1118.71,1161.50,1117.20,1173.15,1118.90C1184.80,1120.60,1196.45,1125.51,1208.10,1128.40C1219.75,1131.29,1231.40,1132.14,1243.05,1131.80C1254.70,1131.46,1266.35,1129.91,1278.00,1129.70C1289.65,1129.49,1301.30,1130.60,1312.95,1130.30C1324.60,1130.00,1336.25,1128.27,1347.90,1127.20C1359.55,1126.13,1371.20,1125.71,1382.85,1125.00C1394.50,1124.29,1406.15,1123.29,1417.80,1125.90C1429.45,1128.51,1441.10,1134.72,1452.75,1132.30C1464.40,1129.88,1476.05,1118.81,1487.70,1118.10C1499.35,1117.39,1511.00,1127.02,1522.65,1129.70C1534.30,1132.38,1545.95,1128.12,1557.60,1124.60C1569.25,1121.08,1580.90,1118.32,1592.55,1119.90C1604.20,1121.48,1615.85,1127.42,1627.50,1127.90C1639.15,1128.38,1650.80,1123.41,1662.45,1124.00C1674.10,1124.59,1685.75,1130.76,1697.40,1129.70C1709.05,1128.64,1720.70,1120.37,1732.35,1118.10C1744.00,1115.83,1755.65,1119.56,1767.30,1118.90C1778.95,1118.24,1790.60,1113.18,1802.25,1113.70C1813.90,1114.22,1825.55,1120.33,1837.20,1123.30C1848.85,1126.27,1860.50,1126.09,1872.15,1127.20C1883.80,1128.31,1895.45,1130.72,1907.10,1129.70C1918.75,1128.68,1930.40,1124.25,1942.05,1123.30C1953.70,1122.35,1965.35,1124.89,1977.00,1125.30C1988.65,1125.71,2000.30,1123.98,2011.95,1125.90C2023.60,1127.82,2035.25,1133.39,2046.90,1131.00C2058.55,1128.61,2070.20,1118.27,2081.85,1115.50C2093.50,1112.73,2105.15,1117.53,2116.80,1119.40C2128.45,1121.27,2140.10,1120.20,2151.75,1119.40C2163.40,1118.60,2175.05,1118.06,2186.70,1118.10C2198.35,1118.14,2210.00,1118.74,2221.65,1121.40C2233.30,1124.06,2244.95,1128.77,2256.60,1129.70C2268.25,1130.63,2279.90,1127.80,2291.55,1127.70C2303.20,1127.60,2314.85,1130.25,2326.50,1131.60C2338.15,1132.95,2349.80,1132.99,2361.45,1131.00C2373.10,1129.01,2384.75,1124.97,2396.40,1124.60C2408.05,1124.23,2419.70,1127.51,2431.35,1127.70C2443.00,1127.89,2454.65,1124.99,2466.30,1126.40C2477.95,1127.81,2489.60,1133.55,2501.25,1131.00C2512.90,1128.45,2524.55,1117.63,2536.20,1116.80C2547.85,1115.97,2559.50,1125.14,2571.15,1129.70C2582.80,1134.26,2594.45,1134.21,2606.10,1132.30C2617.75,1130.39,2629.40,1126.64,2641.05,1125.30C2652.70,1123.96,2664.35,1125.05,2676.00,1127.20C2687.65,1129.35,2699.30,1132.57,2710.95,1129.70C2722.60,1126.83,2734.25,1117.88,2745.90,1118.90C2757.55,1119.92,2769.20,1130.89,2780.85,1131.00C2792.50,1131.11,2804.15,1120.34,2815.80,1119.90C2827.45,1119.46,2839.10,1129.35,2850.75,1131.80C2862.40,1134.25,2874.05,1129.25,2885.70,1125.90C2897.35,1122.55,2909.00,1120.85,2920.65,1121.40C2932.30,1121.95,2943.95,1124.74,2955.60,1123.30C2967.25,1121.86,2978.90,1116.19,2990.55,1116.30C3002.20,1116.41,3013.85,1122.31,3025.50,1127.20C3037.15,1132.09,3048.80,1135.96,3060.45,1132.30C3072.10,1128.64,3083.75,1117.44,3095.40,1118.10C3107.05,1118.76,3118.70,1131.27,3130.35,1132.30C3142.00,1133.33,3153.65,1122.89,3165.30,1119.40C3176.95,1115.91,3188.60,1119.38,3200.25,1122.00C3211.90,1124.62,3223.55,1126.37,3235.20,1123.30C3246.85,1120.23,3258.50,1112.32,3270.15,1114.20C3281.80,1116.08,3293.45,1127.75,3305.10,1130.30C3316.75,1132.85,3328.40,1126.29,3340.05,1122.00C3351.70,1117.71,3363.35,1115.70,3375.00,1117.30C3386.65,1118.90,3398.30,1124.13,3409.95,1127.20C3421.60,1130.27,3433.25,1131.19,3444.90,1127.20C3456.55,1123.21,3468.20,1114.30,3479.85,1114.20C3491.50,1114.10,3503.15,1122.82,3514.80,1127.20C3526.45,1131.58,3538.10,1131.62,3549.75,1129.70C3561.40,1127.78,3573.05,1123.90,3584.70,1120.70C3596.35,1117.50,3608.00,1114.97,3619.65,1116.80C3631.30,1118.63,3642.95,1124.82,3654.60,1128.40C3666.25,1131.98,3677.90,1132.94,3689.55,1131.00C3701.20,1129.06,3712.85,1124.23,3724.50,1119.40L3724.50,1139.2L579.00,1139.2Z" fill="url(#tg)"/>
<path d="M579.00,1131.80C590.65,1130.69,602.30,1129.59,613.95,1130.30C625.60,1131.01,637.25,1133.55,648.90,1132.80C660.55,1132.05,672.20,1128.02,683.85,1126.40C695.50,1124.78,707.15,1125.56,718.80,1124.60C730.45,1123.64,742.10,1120.94,753.75,1122.50C765.40,1124.06,777.05,1129.87,788.70,1129.70C800.35,1129.53,812.00,1123.36,823.65,1124.00C835.30,1124.64,846.95,1132.07,858.60,1133.90C870.25,1135.73,881.90,1131.96,893.55,1128.40C905.20,1124.84,916.85,1121.51,928.50,1122.50C940.15,1123.49,951.80,1128.81,963.45,1128.40C975.10,1127.99,986.75,1121.85,998.40,1120.70C1010.05,1119.55,1021.70,1123.40,1033.35,1125.90C1045.00,1128.40,1056.65,1129.54,1068.30,1130.30C1079.95,1131.06,1091.60,1131.44,1103.25,1129.70C1114.90,1127.96,1126.55,1124.09,1138.20,1121.40C1149.85,1118.71,1161.50,1117.20,1173.15,1118.90C1184.80,1120.60,1196.45,1125.51,1208.10,1128.40C1219.75,1131.29,1231.40,1132.14,1243.05,1131.80C1254.70,1131.46,1266.35,1129.91,1278.00,1129.70C1289.65,1129.49,1301.30,1130.60,1312.95,1130.30C1324.60,1130.00,1336.25,1128.27,1347.90,1127.20C1359.55,1126.13,1371.20,1125.71,1382.85,1125.00C1394.50,1124.29,1406.15,1123.29,1417.80,1125.90C1429.45,1128.51,1441.10,1134.72,1452.75,1132.30C1464.40,1129.88,1476.05,1118.81,1487.70,1118.10C1499.35,1117.39,1511.00,1127.02,1522.65,1129.70C1534.30,1132.38,1545.95,1128.12,1557.60,1124.60C1569.25,1121.08,1580.90,1118.32,1592.55,1119.90C1604.20,1121.48,1615.85,1127.42,1627.50,1127.90C1639.15,1128.38,1650.80,1123.41,1662.45,1124.00C1674.10,1124.59,1685.75,1130.76,1697.40,1129.70C1709.05,1128.64,1720.70,1120.37,1732.35,1118.10C1744.00,1115.83,1755.65,1119.56,1767.30,1118.90C1778.95,1118.24,1790.60,1113.18,1802.25,1113.70C1813.90,1114.22,1825.55,1120.33,1837.20,1123.30C1848.85,1126.27,1860.50,1126.09,1872.15,1127.20C1883.80,1128.31,1895.45,1130.72,1907.10,1129.70C1918.75,1128.68,1930.40,1124.25,1942.05,1123.30C1953.70,1122.35,1965.35,1124.89,1977.00,1125.30C1988.65,1125.71,2000.30,1123.98,2011.95,1125.90C2023.60,1127.82,2035.25,1133.39,2046.90,1131.00C2058.55,1128.61,2070.20,1118.27,2081.85,1115.50C2093.50,1112.73,2105.15,1117.53,2116.80,1119.40C2128.45,1121.27,2140.10,1120.20,2151.75,1119.40C2163.40,1118.60,2175.05,1118.06,2186.70,1118.10C2198.35,1118.14,2210.00,1118.74,2221.65,1121.40C2233.30,1124.06,2244.95,1128.77,2256.60,1129.70C2268.25,1130.63,2279.90,1127.80,2291.55,1127.70C2303.20,1127.60,2314.85,1130.25,2326.50,1131.60C2338.15,1132.95,2349.80,1132.99,2361.45,1131.00C2373.10,1129.01,2384.75,1124.97,2396.40,1124.60C2408.05,1124.23,2419.70,1127.51,2431.35,1127.70C2443.00,1127.89,2454.65,1124.99,2466.30,1126.40C2477.95,1127.81,2489.60,1133.55,2501.25,1131.00C2512.90,1128.45,2524.55,1117.63,2536.20,1116.80C2547.85,1115.97,2559.50,1125.14,2571.15,1129.70C2582.80,1134.26,2594.45,1134.21,2606.10,1132.30C2617.75,1130.39,2629.40,1126.64,2641.05,1125.30C2652.70,1123.96,2664.35,1125.05,2676.00,1127.20C2687.65,1129.35,2699.30,1132.57,2710.95,1129.70C2722.60,1126.83,2734.25,1117.88,2745.90,1118.90C2757.55,1119.92,2769.20,1130.89,2780.85,1131.00C2792.50,1131.11,2804.15,1120.34,2815.80,1119.90C2827.45,1119.46,2839.10,1129.35,2850.75,1131.80C2862.40,1134.25,2874.05,1129.25,2885.70,1125.90C2897.35,1122.55,2909.00,1120.85,2920.65,1121.40C2932.30,1121.95,2943.95,1124.74,2955.60,1123.30C2967.25,1121.86,2978.90,1116.19,2990.55,1116.30C3002.20,1116.41,3013.85,1122.31,3025.50,1127.20C3037.15,1132.09,3048.80,1135.96,3060.45,1132.30C3072.10,1128.64,3083.75,1117.44,3095.40,1118.10C3107.05,1118.76,3118.70,1131.27,3130.35,1132.30C3142.00,1133.33,3153.65,1122.89,3165.30,1119.40C3176.95,1115.91,3188.60,1119.38,3200.25,1122.00C3211.90,1124.62,3223.55,1126.37,3235.20,1123.30C3246.85,1120.23,3258.50,1112.32,3270.15,1114.20C3281.80,1116.08,3293.45,1127.75,3305.10,1130.30C3316.75,1132.85,3328.40,1126.29,3340.05,1122.00C3351.70,1117.71,3363.35,1115.70,3375.00,1117.30C3386.65,1118.90,3398.30,1124.13,3409.95,1127.20C3421.60,1130.27,3433.25,1131.19,3444.90,1127.20C3456.55,1123.21,3468.20,1114.30,3479.85,1114.20C3491.50,1114.10,3503.15,1122.82,3514.80,1127.20C3526.45,1131.58,3538.10,1131.62,3549.75,1129.70C3561.40,1127.78,3573.05,1123.90,3584.70,1120.70C3596.35,1117.50,3608.00,1114.97,3619.65,1116.80C3631.30,1118.63,3642.95,1124.82,3654.60,1128.40C3666.25,1131.98,3677.90,1132.94,3689.55,1131.00C3701.20,1129.06,3712.85,1124.23,3724.50,1119.40" fill="none" stroke="#0f9484" stroke-width="2.0"/>
</svg>
<div class="t" style="top:1163.19px;font-size:23.3px;line-height:23.3px;color:#6e6e6e;left:-386.05px;width:2000px;text-align:center;">Apr 1</div>
<div class="t" style="top:1163.19px;font-size:23.3px;line-height:23.3px;color:#6e6e6e;left:-246.25px;width:2000px;text-align:center;">Apr 5</div>
<div class="t" style="top:1163.19px;font-size:23.3px;line-height:23.3px;color:#6e6e6e;left:-106.45px;width:2000px;text-align:center;">Apr 9</div>
<div class="t" style="top:1163.19px;font-size:23.3px;line-height:23.3px;color:#6e6e6e;left:33.35px;width:2000px;text-align:center;">Apr 13</div>
<div class="t" style="top:1163.19px;font-size:23.3px;line-height:23.3px;color:#6e6e6e;left:173.15px;width:2000px;text-align:center;">Apr 17</div>
<div class="t" style="top:1163.19px;font-size:23.3px;line-height:23.3px;color:#6e6e6e;left:312.95px;width:2000px;text-align:center;">Apr 21</div>
<div class="t" style="top:1163.19px;font-size:23.3px;line-height:23.3px;color:#6e6e6e;left:452.75px;width:2000px;text-align:center;">Apr 25</div>
<div class="t" style="top:1163.19px;font-size:23.3px;line-height:23.3px;color:#6e6e6e;left:592.55px;width:2000px;text-align:center;">Apr 29</div>
<div class="t" style="top:1163.19px;font-size:23.3px;line-height:23.3px;color:#6e6e6e;left:732.35px;width:2000px;text-align:center;">May 3</div>
<div class="t" style="top:1163.19px;font-size:23.3px;line-height:23.3px;color:#6e6e6e;left:872.15px;width:2000px;text-align:center;">May 7</div>
<div class="t" style="top:1163.19px;font-size:23.3px;line-height:23.3px;color:#6e6e6e;left:1011.95px;width:2000px;text-align:center;">May 11</div>
<div class="t" style="top:1163.19px;font-size:23.3px;line-height:23.3px;color:#6e6e6e;left:1151.75px;width:2000px;text-align:center;">May 15</div>
<div class="t" style="top:1163.19px;font-size:23.3px;line-height:23.3px;color:#6e6e6e;left:1291.55px;width:2000px;text-align:center;">May 19</div>
<div class="t" style="top:1163.19px;font-size:23.3px;line-height:23.3px;color:#6e6e6e;left:1431.35px;width:2000px;text-align:center;">May 23</div>
<div class="t" style="top:1163.19px;font-size:23.3px;line-height:23.3px;color:#6e6e6e;left:1571.15px;width:2000px;text-align:center;">May 27</div>
<div class="t" style="top:1163.19px;font-size:23.3px;line-height:23.3px;color:#6e6e6e;left:1710.95px;width:2000px;text-align:center;">May 31</div>
<div class="t" style="top:1163.19px;font-size:23.3px;line-height:23.3px;color:#6e6e6e;left:1850.75px;width:2000px;text-align:center;">Jun 4</div>
<div class="t" style="top:1163.19px;font-size:23.3px;line-height:23.3px;color:#6e6e6e;left:1990.55px;width:2000px;text-align:center;">Jun 8</div>
<div class="t" style="top:1163.19px;font-size:23.3px;line-height:23.3px;color:#6e6e6e;left:2130.35px;width:2000px;text-align:center;">Jun 12</div>
<div class="t" style="top:1163.19px;font-size:23.3px;line-height:23.3px;color:#6e6e6e;left:2270.15px;width:2000px;text-align:center;">Jun 16</div>
<div class="t" style="top:1163.19px;font-size:23.3px;line-height:23.3px;color:#6e6e6e;left:2409.95px;width:2000px;text-align:center;">Jun 20</div>
<div class="t" style="top:1163.19px;font-size:23.3px;line-height:23.3px;color:#6e6e6e;left:2549.75px;width:2000px;text-align:center;">Jun 24</div>
<div class="t" style="top:1163.03px;font-size:23.5px;line-height:23.5px;color:#6e6e6e;right:107.50px;">Jun 29</div>
<div style="position:absolute;left:524.00px;top:1297.00px;width:1846.00px;height:820.00px;background:#fff;border:2px solid #e3e3e3;border-radius:22px;box-sizing:border-box;box-shadow:0 1.9px 3px rgba(0,0,0,0.04);"></div>
<div class="t" style="top:1344.43px;font-size:28.9px;line-height:28.9px;color:#171717;font-weight:700;left:570.80px;">Recent Links</div>
<div class="t" style="top:1392.33px;font-size:27.5px;line-height:27.5px;color:#737373;left:570.80px;">Your top performing affiliate links</div>
<div class="t" style="top:1470.63px;font-size:26.9px;line-height:26.9px;color:#171717;-webkit-text-stroke:0.3px #171717;left:570.80px;">Teclado Mecánico RGB</div>
<div class="t" style="top:1508.62px;font-size:27.5px;line-height:27.5px;color:#737373;left:570.80px;">/teclado-mecanico</div>
<div style="position:absolute;left:2069.00px;top:1485.00px;width:142.00px;height:40.50px;background:#f4f4f4;border-radius:999px;"></div>
<div class="t" style="top:1493.76px;font-size:24.4px;line-height:24.4px;color:#171717;-webkit-text-stroke:0.2px #171717;left:1140.00px;width:2000px;text-align:center;">572 clicks</div>
<div style="position:absolute;left:2227.00px;top:1485.00px;width:96.00px;height:40.50px;border:2px solid #e3e3e3;border-radius:999px;box-sizing:border-box;"></div>
<div class="t" style="top:1493.76px;font-size:24.4px;line-height:24.4px;color:#16a34a;-webkit-text-stroke:0.25px #16a34a;left:1275.00px;width:2000px;text-align:center;">active</div>
<div class="t" style="top:1571.43px;font-size:26.9px;line-height:26.9px;color:#171717;-webkit-text-stroke:0.3px #171717;left:570.80px;">Auriculares Gaming RGB</div>
<div class="t" style="top:1609.42px;font-size:27.5px;line-height:27.5px;color:#737373;left:570.80px;">/auriculares-gaming</div>
<div style="position:absolute;left:2066.60px;top:1585.80px;width:144.40px;height:40.50px;background:#f4f4f4;border-radius:999px;"></div>
<div class="t" style="top:1594.56px;font-size:24.4px;line-height:24.4px;color:#171717;-webkit-text-stroke:0.2px #171717;left:1138.80px;width:2000px;text-align:center;">495 clicks</div>
<div style="position:absolute;left:2227.00px;top:1585.80px;width:96.00px;height:40.50px;border:2px solid #e3e3e3;border-radius:999px;box-sizing:border-box;"></div>
<div class="t" style="top:1594.56px;font-size:24.4px;line-height:24.4px;color:#16a34a;-webkit-text-stroke:0.25px #16a34a;left:1275.00px;width:2000px;text-align:center;">active</div>
<div class="t" style="top:1672.23px;font-size:26.9px;line-height:26.9px;color:#171717;-webkit-text-stroke:0.3px #171717;left:570.80px;">Mouse Gaming Inalámbrico</div>
<div class="t" style="top:1710.22px;font-size:27.5px;line-height:27.5px;color:#737373;left:570.80px;">/mouse-gaming</div>
<div style="position:absolute;left:2070.80px;top:1686.60px;width:140.20px;height:40.50px;background:#f4f4f4;border-radius:999px;"></div>
<div class="t" style="top:1695.36px;font-size:24.4px;line-height:24.4px;color:#171717;-webkit-text-stroke:0.2px #171717;left:1140.90px;width:2000px;text-align:center;">418 clicks</div>
<div style="position:absolute;left:2227.00px;top:1686.60px;width:96.00px;height:40.50px;border:2px solid #e3e3e3;border-radius:999px;box-sizing:border-box;"></div>
<div class="t" style="top:1695.36px;font-size:24.4px;line-height:24.4px;color:#16a34a;-webkit-text-stroke:0.25px #16a34a;left:1275.00px;width:2000px;text-align:center;">active</div>
<div class="t" style="top:1773.04px;font-size:26.9px;line-height:26.9px;color:#171717;-webkit-text-stroke:0.3px #171717;left:570.80px;">Robot Aspiradora Inteligente</div>
<div class="t" style="top:1811.03px;font-size:27.5px;line-height:27.5px;color:#737373;left:570.80px;">/robot-aspiradora</div>
<div style="position:absolute;left:2066.60px;top:1787.40px;width:144.40px;height:40.50px;background:#f4f4f4;border-radius:999px;"></div>
<div class="t" style="top:1796.16px;font-size:24.4px;line-height:24.4px;color:#171717;-webkit-text-stroke:0.2px #171717;left:1138.80px;width:2000px;text-align:center;">354 clicks</div>
<div style="position:absolute;left:2227.00px;top:1787.40px;width:96.00px;height:40.50px;border:2px solid #e3e3e3;border-radius:999px;box-sizing:border-box;"></div>
<div class="t" style="top:1796.16px;font-size:24.4px;line-height:24.4px;color:#16a34a;-webkit-text-stroke:0.25px #16a34a;left:1275.00px;width:2000px;text-align:center;">active</div>
<div class="t" style="top:1873.84px;font-size:26.9px;line-height:26.9px;color:#171717;-webkit-text-stroke:0.3px #171717;left:570.80px;">Mopa de Vapor Profesional</div>
<div class="t" style="top:1911.83px;font-size:27.5px;line-height:27.5px;color:#737373;left:570.80px;">/mopa-vapor</div>
<div style="position:absolute;left:2066.60px;top:1888.20px;width:144.40px;height:40.50px;background:#f4f4f4;border-radius:999px;"></div>
<div class="t" style="top:1896.96px;font-size:24.4px;line-height:24.4px;color:#171717;-webkit-text-stroke:0.2px #171717;left:1138.80px;width:2000px;text-align:center;">308 clicks</div>
<div style="position:absolute;left:2227.00px;top:1888.20px;width:96.00px;height:40.50px;border:2px solid #e3e3e3;border-radius:999px;box-sizing:border-box;"></div>
<div class="t" style="top:1896.96px;font-size:24.4px;line-height:24.4px;color:#16a34a;-webkit-text-stroke:0.25px #16a34a;left:1275.00px;width:2000px;text-align:center;">active</div>
<div style="position:absolute;left:570.00px;top:1973.50px;width:1753.00px;height:1.90px;background:#e3e3e3;"></div>
<div style="position:absolute;left:570.00px;top:2006.50px;width:1753.00px;height:65.20px;border:2px solid #e3e3e3;border-radius:12px;box-sizing:border-box;box-shadow:0 1.9px 2px rgba(0,0,0,0.04);"></div>
<div class="t" style="top:2025.20px;font-size:27.3px;line-height:27.3px;color:#171717;-webkit-text-stroke:0.3px #171717;left:446.50px;width:2000px;text-align:center;">View All Links</div>
<div style="position:absolute;left:2401.60px;top:1297.00px;width:1377.40px;height:820.00px;background:#fff;border:2px solid #e3e3e3;border-radius:22px;box-sizing:border-box;box-shadow:0 1.9px 3px rgba(0,0,0,0.04);"></div>
<div class="t" style="top:1344.65px;font-size:29px;line-height:29px;color:#171717;font-weight:700;left:2449.30px;">Quick Actions</div>
<div class="t" style="top:1391.56px;font-size:27.1px;line-height:27.1px;color:#737373;left:2449.30px;">Common tasks and shortcuts</div>
<div style="position:absolute;left:2448.40px;top:1471.00px;width:1285.10px;height:65.00px;border:2px solid #e3e3e3;border-radius:12px;box-sizing:border-box;box-shadow:0 1.9px 2px rgba(0,0,0,0.04);"></div>
<svg style="position:absolute;left:2471.50px;top:1488.50px" width="30" height="30" viewBox="0 0 24 24" fill="none" stroke="#171717" stroke-width="2" stroke-linecap="round" stroke-linejoin="round"><path d="M9 15l6 -6"/><path d="M11 6l.463 -.536a5 5 0 0 1 7.071 7.072l-.534 .464"/><path d="M13 18l-.397 .534a5.068 5.068 0 0 1 -7.127 0a4.972 4.972 0 0 1 0 -7.071l.524 -.463"/></svg>
<div class="t" style="top:1489.80px;font-size:27.3px;line-height:27.3px;color:#171717;-webkit-text-stroke:0.3px #171717;left:2533.00px;">Create New Link</div>
<div style="position:absolute;left:2448.40px;top:1553.00px;width:1285.10px;height:65.00px;border:2px solid #e3e3e3;border-radius:12px;box-sizing:border-box;box-shadow:0 1.9px 2px rgba(0,0,0,0.04);"></div>
<svg style="position:absolute;left:2471.50px;top:1570.50px" width="30" height="30" viewBox="0 0 24 24" fill="none" stroke="#171717" stroke-width="2" stroke-linecap="round" stroke-linejoin="round"><path d="M3 13a1 1 0 0 1 1 -1h4a1 1 0 0 1 1 1v6a1 1 0 0 1 -1 1h-4a1 1 0 0 1 -1 -1l0 -6"/><path d="M15 9a1 1 0 0 1 1 -1h4a1 1 0 0 1 1 1v10a1 1 0 0 1 -1 1h-4a1 1 0 0 1 -1 -1l0 -10"/><path d="M9 5a1 1 0 0 1 1 -1h4a1 1 0 0 1 1 1v14a1 1 0 0 1 -1 1h-4a1 1 0 0 1 -1 -1l0 -14"/><path d="M4 20h14"/></svg>
<div class="t" style="top:1571.80px;font-size:27.3px;line-height:27.3px;color:#171717;-webkit-text-stroke:0.3px #171717;left:2533.00px;">View Analytics</div>
<div style="position:absolute;left:2448.40px;top:1635.00px;width:1285.10px;height:65.00px;border:2px solid #e3e3e3;border-radius:12px;box-sizing:border-box;box-shadow:0 1.9px 2px rgba(0,0,0,0.04);"></div>
<svg style="position:absolute;left:2471.50px;top:1652.50px" width="30" height="30" viewBox="0 0 24 24" fill="none" stroke="#171717" stroke-width="2" stroke-linecap="round" stroke-linejoin="round"><path d="M9 7m-4 0a4 4 0 1 0 8 0a4 4 0 1 0 -8 0"/><path d="M3 21v-2a4 4 0 0 1 4 -4h4a4 4 0 0 1 4 4v2"/><path d="M16 3.13a4 4 0 0 1 0 7.75"/><path d="M21 21v-2a4 4 0 0 0 -3 -3.85"/></svg>
<div class="t" style="top:1653.80px;font-size:27.3px;line-height:27.3px;color:#171717;-webkit-text-stroke:0.3px #171717;left:2533.00px;">Manage Team</div>
<div style="position:absolute;left:2448.00px;top:1745.70px;width:1285.50px;height:1.90px;background:#e3e3e3;"></div>
<div class="t" style="top:1783.90px;font-size:26px;line-height:26px;color:#737373;left:2449.00px;">Plan Usage</div>
<div class="t" style="top:1783.13px;font-size:26.9px;line-height:26.9px;color:#171717;-webkit-text-stroke:0.3px #171717;right:106.50px;">7 / 100 links</div>
<div style="position:absolute;left:2448.00px;top:1830.00px;width:1285.50px;height:15.00px;background:#d0d0d0;border-radius:999px;overflow:hidden;"></div>
<div style="position:absolute;left:2448.00px;top:1830.00px;width:90.00px;height:15.00px;background:#171717;border-radius:999px 0 0 999px;"></div>
<div class="t" style="top:1874.03px;font-size:23.5px;line-height:23.5px;color:#737373;left:2449.00px;">93 links remaining on your Free plan</div>
<div style="position:absolute;left:2442.50px;top:1914.20px;width:1296.50px;height:71.20px;background:#d0d0d0;border-radius:17px;"></div>
<div style="position:absolute;left:2448.00px;top:1919.70px;width:1285.50px;height:60.10px;background:#171717;border-radius:12px;"></div>
<div class="t" style="top:1936.21px;font-size:27.4px;line-height:27.4px;color:#fff;-webkit-text-stroke:0.3px #fff;left:2090.80px;width:2000px;text-align:center;">Upgrade to Pro</div>
</div></div>
</div>
</body></html>
